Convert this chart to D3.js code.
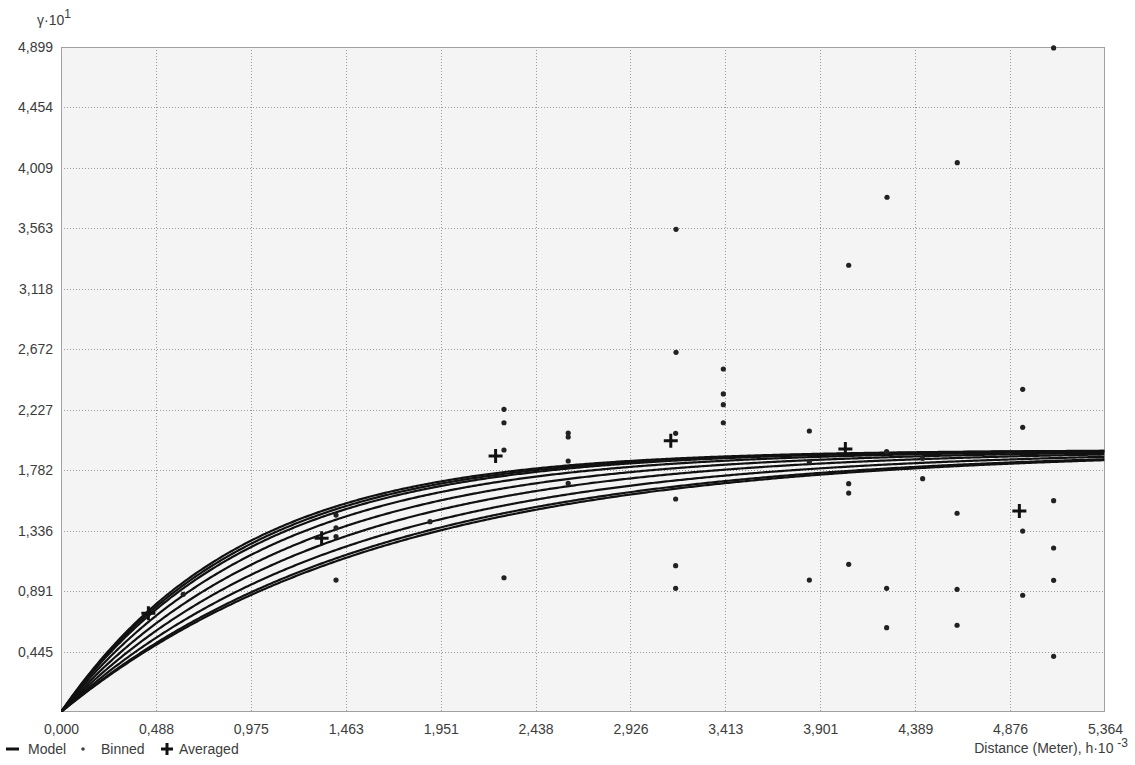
<!DOCTYPE html>
<html>
<head>
<meta charset="utf-8">
<script src="https://cdn.jsdelivr.net/npm/d3@7"></script>
<style>
  html, body { margin: 0; padding: 0; background: #ffffff; }
  svg { display: block; font-family: "Liberation Sans", Arial, sans-serif; }
</style>
</head>
<body>
<svg id="chart" width="1135" height="765"></svg>
<script>
// Axis ticks (semivariance ×10, distance ×10^-3)
const xTicks = [0.000, 0.488, 0.975, 1.463, 1.951, 2.438, 2.926, 3.413, 3.901, 4.389, 4.876, 5.364];
const yTicks = [0.445, 0.891, 1.336, 1.782, 2.227, 2.672, 3.118, 3.563, 4.009, 4.454, 4.899];
const xMax = 5.364;
const yMax = 4.899;

// Fitted exponential models: common sill, one practical range per curve
const modelSill = 1.93;
const modelRanges = [2.76, 2.85, 2.95, 3.2, 3.55, 3.95, 4.4, 4.8, 4.95];

// Binned semivariances
const binnedH = [0.628, 1.413, 1.413, 1.413, 1.413, 1.896, 2.276, 2.276, 2.276, 2.276,
  2.606, 2.606, 2.606, 2.606, 3.158, 3.158, 3.158, 3.158, 3.160, 3.160,
  3.403, 3.403, 3.403, 3.403, 3.845, 3.845, 3.845, 4.047, 4.047, 4.047, 4.047,
  4.242, 4.242, 4.242, 4.244, 4.427, 4.427, 4.604, 4.604, 4.604, 4.605,
  4.941, 4.941, 4.941, 4.941, 5.100, 5.100, 5.100, 5.100, 5.100];
const binnedG = [0.867, 1.451, 1.356, 1.293, 0.972, 1.402, 2.230, 2.131, 1.930, 0.989,
  2.055, 2.026, 1.849, 1.685, 2.053, 1.569, 1.078, 0.911, 3.556, 2.650,
  2.527, 2.343, 2.264, 2.131, 2.070, 1.844, 0.972, 3.291, 1.682, 1.613, 1.088,
  1.918, 0.911, 0.621, 3.792, 1.869, 1.719, 1.464, 0.904, 0.639, 4.047,
  2.377, 2.097, 1.333, 0.860, 1.557, 1.208, 0.970, 0.410, 4.892];

// Averaged semivariances per lag
const averagedH = [0.449, 1.339, 2.233, 3.133, 4.030, 4.924];
const averagedG = [0.727, 1.280, 1.886, 1.999, 1.938, 1.481];

const svg = d3.select("#chart");
const m = { left: 61, top: 47, right: 30, bottom: 53 };
const W = 1135, H = 765;
const pw = W - m.left - m.right, ph = H - m.top - m.bottom;
const textColor = "#3c3c3c";
const fontFamily = "'Liberation Sans', Arial, sans-serif";

const x = d3.scaleLinear().domain([0, xMax]).range([m.left, m.left + pw]);
const y = d3.scaleLinear().domain([0, yMax]).range([m.top + ph, m.top]);
const fmt = v => d3.format(".3f")(v).replace(".", ",");

// plot background
svg.append("rect").attr("x", m.left).attr("y", m.top).attr("width", pw).attr("height", ph)
  .attr("fill", "#f4f4f4");

// grid
const grid = svg.append("g").attr("stroke", "#9a9a9a").attr("stroke-width", 1)
  .attr("stroke-dasharray", "1,2");
grid.selectAll("line.v").data(xTicks.slice(1, -1)).join("line")
  .attr("x1", d => Math.round(x(d)) + 0.5).attr("x2", d => Math.round(x(d)) + 0.5)
  .attr("y1", m.top).attr("y2", m.top + ph);
grid.selectAll("line.h").data(yTicks.slice(0, -1)).join("line")
  .attr("y1", d => Math.round(y(d)) + 0.5).attr("y2", d => Math.round(y(d)) + 0.5)
  .attr("x1", m.left).attr("x2", m.left + pw);

// frame
svg.append("rect").attr("x", m.left + 0.5).attr("y", m.top + 0.5).attr("width", pw - 1).attr("height", ph - 1)
  .attr("fill", "none").attr("stroke", "#a0a0a0").attr("stroke-width", 1);

// axes (labels only, the frame serves as axis line)
const xAxis = d3.axisBottom(x).tickValues(xTicks).tickFormat(fmt).tickSize(0).tickPadding(12);
svg.append("g").attr("transform", `translate(0,${m.top + ph})`).call(xAxis)
  .call(g => g.select(".domain").remove())
  .call(g => g.selectAll("text").attr("font-size", 14).attr("fill", textColor)
    .attr("font-family", fontFamily));
const yAxis = d3.axisLeft(y).tickValues(yTicks).tickFormat(fmt).tickSize(0).tickPadding(8);
svg.append("g").attr("transform", `translate(${m.left},0)`).call(yAxis)
  .call(g => g.select(".domain").remove())
  .call(g => g.selectAll("text").attr("font-size", 14).attr("fill", textColor)
    .attr("font-family", fontFamily));

// clip
svg.append("clipPath").attr("id", "plotclip").append("rect")
  .attr("x", m.left).attr("y", m.top - 2).attr("width", pw).attr("height", ph + 2);

// model curves: exponential variogram
const expModel = (h, a) => modelSill * (1 - Math.exp(-3 * h / a));
const hs = d3.range(0, xMax + 0.001, 0.01);
const line = d3.line().x(d => x(d[0])).y(d => y(d[1]));
svg.append("g").attr("clip-path", "url(#plotclip)")
  .selectAll("path").data(modelRanges).join("path")
  .attr("d", a => line(hs.map(h => [h, expModel(h, a)])))
  .attr("fill", "none").attr("stroke", "#111").attr("stroke-width", 2.2);

// binned points
svg.append("g").selectAll("circle").data(binnedH).join("circle")
  .attr("cx", d => x(d)).attr("cy", (d, i) => y(binnedG[i])).attr("r", 2.6)
  .attr("fill", "#222");

// averaged crosses
const crossPath = "M-7,0H7M0,-7V7";
svg.append("g").selectAll("path").data(averagedH).join("path")
  .attr("transform", (d, i) => `translate(${x(d)},${y(averagedG[i])})`)
  .attr("d", crossPath).attr("stroke", "#111").attr("stroke-width", 3).attr("fill", "none");

// axis titles
const yt = svg.append("text").attr("x", 37).attr("y", 25).attr("font-size", 14)
  .attr("fill", textColor).attr("font-family", fontFamily);
yt.append("tspan").text("γ·10");
yt.append("tspan").attr("dy", -7).attr("font-size", 12).text("1");

const xt = svg.append("text").attr("x", 1128).attr("y", 753).attr("text-anchor", "end")
  .attr("font-size", 14).attr("fill", textColor).attr("font-family", fontFamily);
xt.append("tspan").text("Distance (Meter), h·10 ");
xt.append("tspan").attr("dy", -6).attr("font-size", 12).text("-3");

// legend
const lg = svg.append("g").attr("font-size", 14).attr("fill", textColor).attr("font-family", fontFamily);
lg.append("line").attr("x1", 6).attr("x2", 19).attr("y1", 749).attr("y2", 749)
  .attr("stroke", "#111").attr("stroke-width", 3);
lg.append("text").attr("x", 28).attr("y", 754).text("Model");
lg.append("circle").attr("cx", 83).attr("cy", 749).attr("r", 1.8).attr("fill", "#444");
lg.append("text").attr("x", 101).attr("y", 754).text("Binned");
lg.append("path").attr("transform", "translate(167,749)").attr("d", "M-6,0H6M0,-6V6")
  .attr("stroke", "#111").attr("stroke-width", 3);
lg.append("text").attr("x", 179).attr("y", 754).text("Averaged");
</script>
</body>
</html>
